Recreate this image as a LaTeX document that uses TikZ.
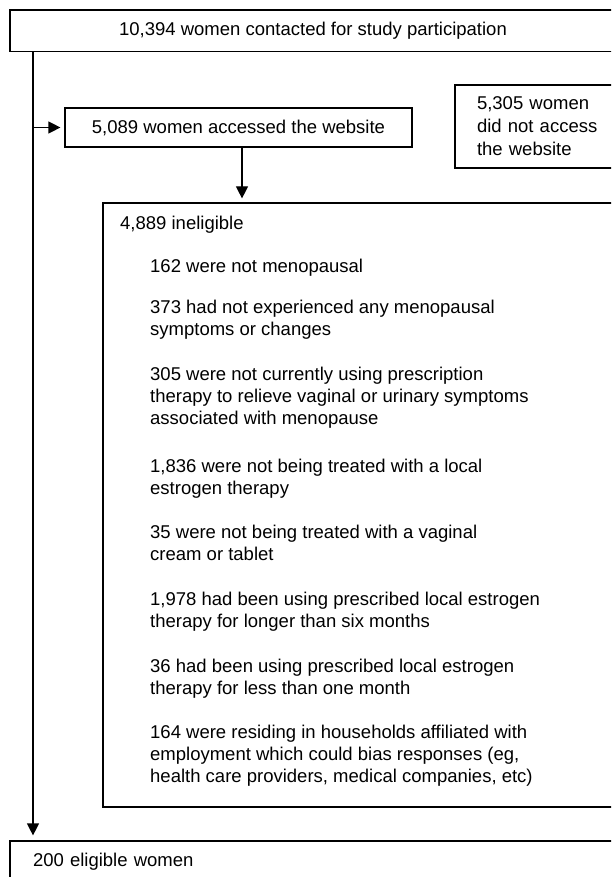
\documentclass[tikz,border=0pt]{standalone}
\usepackage{fontspec}
\setmainfont{Liberation Sans}
\usetikzlibrary{arrows.meta}
\begin{document}
\begin{tikzpicture}[x=1pt,y=-1pt,
  box/.style={draw, line width=1.2pt, inner sep=0pt, font=\fontsize{18.5}{22}\selectfont},
  para/.style={anchor=north west, inner sep=0pt, align=left, font=\fontsize{18.5}{22}\selectfont},
  conn/.style={line width=1.2pt, -{Triangle[length=12pt,width=12pt]}, shorten >=4pt}]
\useasboundingbox (0,0) rectangle (611,877);
\clip (0,0) rectangle (611,877);
\coordinate (trunk) at (33,0);
\coordinate (drop) at (242,0);
\node[box, minimum width=606pt, minimum height=41.7pt] (top) at (313,30.85) {10,394 women contacted for study participation};
\node[box, minimum width=347pt, minimum height=39pt] (acc) at (238.5,127.5) {5,089 women accessed the website};
\node[box, text width=150pt, align=left, inner xsep=22pt, minimum height=83pt, font=\fontsize{18.5}{23}\selectfont] (no) at (552,126.5) {5,305 women\\did not access\\the website};
\node[box, minimum width=597pt, minimum height=604pt] (inel) at (401.5,505) {};
\node[box, text width=560pt, align=left, inner xsep=23pt, minimum height=42pt] (bot) at (313,862) {200 eligible women};
\node[para] (p0) at (120,213.6) {\strut 4,889 ineligible};
\node[para] (p1) at (150,256.6) {\strut 162 were not menopausal};
\node[para] (p2) at (150,297.6) {\strut 373 had not experienced any menopausal\\symptoms or changes};
\node[para] (p3) at (150,364.6) {\strut 305 were not currently using prescription\\therapy to relieve vaginal or urinary symptoms\\associated with menopause};
\node[para] (p4) at (150,456.6) {\strut 1,836 were not being treated with a local\\estrogen therapy};
\node[para] (p5) at (150,522.6) {\strut 35 were not being treated with a vaginal\\cream or tablet};
\node[para] (p6) at (150,589.6) {\strut 1,978 had been using prescribed local estrogen\\therapy for longer than six months};
\node[para] (p7) at (150,656.6) {\strut 36 had been using prescribed local estrogen\\therapy for less than one month};
\node[para] (p8) at (150,722.6) {\strut 164 were residing in households affiliated with\\employment which could bias responses (eg,\\health care providers, medical companies, etc)};
\draw[conn, shorten >=5pt] (top.south -| trunk) -- (bot.north -| trunk);
\draw[conn] (trunk |- acc.west) -- (acc.west);
\draw[conn] (acc.south -| drop) -- (inel.north -| drop);
\end{tikzpicture}
\end{document}
